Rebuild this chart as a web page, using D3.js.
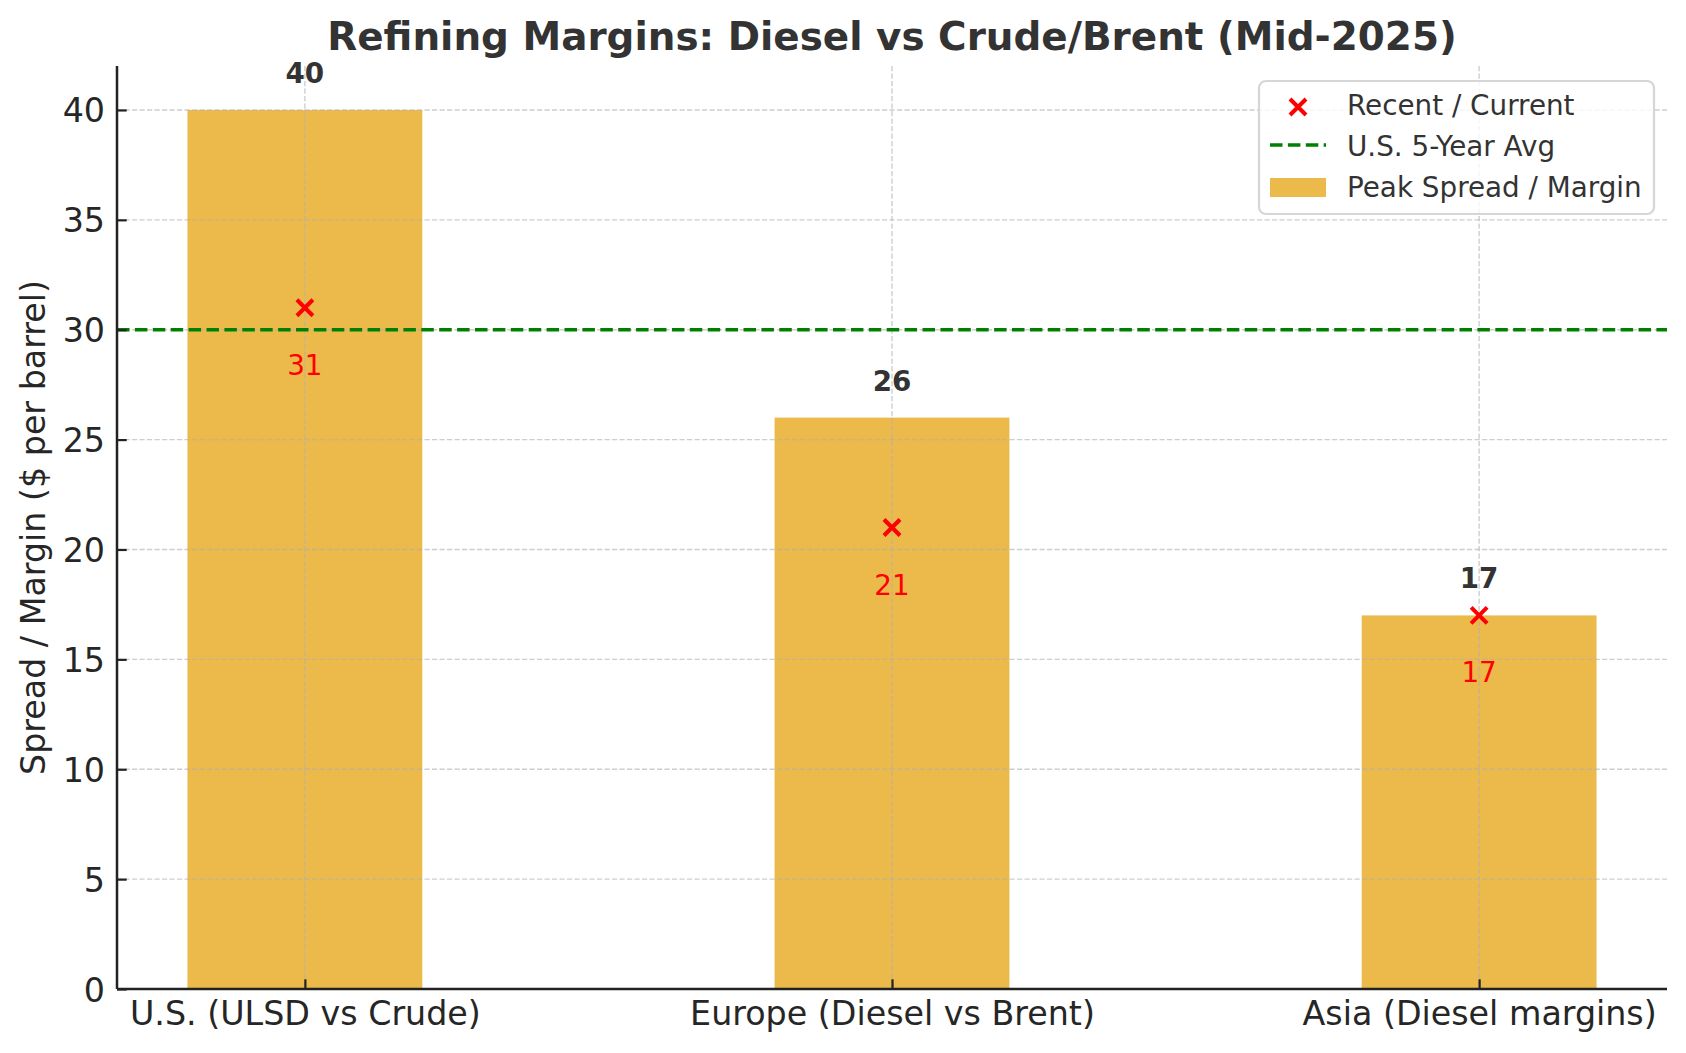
<!DOCTYPE html>
<html>
<head>
<meta charset="utf-8">
<script src="https://cdn.jsdelivr.net/npm/d3@7"></script>
<style>
  html, body { margin: 0; padding: 0; background: #fff; }
  svg { display: block; font-family: "DejaVu Sans", sans-serif; }
</style>
</head>
<body>
<svg id="chart" width="1686" height="1053"></svg>
<script>
const categories = ["U.S. (ULSD vs Crude)", "Europe (Diesel vs Brent)", "Asia (Diesel margins)"];
const peakSpread = [40, 26, 17];
const recentValues = [31, 21, 17];
const usFiveYearAvg = 30;
const yTickValues = [0, 5, 10, 15, 20, 25, 30, 35, 40];
const titleText = "Refining Margins: Diesel vs Crude/Brent (Mid-2025)";
const yLabelText = "Spread / Margin ($ per barrel)";
const legendLabels = ["Recent / Current", "U.S. 5-Year Avg", "Peak Spread / Margin"];

(function () {
const barColor = "#ecb94b";
const svg = d3.select("#chart");
const pL = 117, pR = 1667, pT = 66, pB = 989;

const x = d3.scaleLinear().domain([-0.32, 2.32]).range([pL, pR]);
const y = d3.scaleLinear().domain([0, 42]).range([pB, pT]);
const barW = 0.4;
const idx = categories.map((d, i) => i);

// bars
svg.append("g").selectAll("rect").data(idx).join("rect")
  .attr("x", i => x(i - barW / 2))
  .attr("width", i => x(i + barW / 2) - x(i - barW / 2))
  .attr("y", i => y(peakSpread[i]))
  .attr("height", i => y(0) - y(peakSpread[i]))
  .attr("fill", barColor);

// grid (drawn over bars)
const grid = svg.append("g").attr("stroke", "#b0b0b0").attr("stroke-opacity", 0.62)
  .attr("stroke-width", 1.4).attr("stroke-dasharray", "5.2,2.3");
grid.selectAll("line.h").data(yTickValues).join("line").attr("class", "h")
  .attr("x1", pL).attr("x2", pR).attr("y1", d => y(d)).attr("y2", d => y(d));
grid.selectAll("line.v").data(idx).join("line").attr("class", "v")
  .attr("x1", i => x(i)).attr("x2", i => x(i)).attr("y1", pT).attr("y2", pB);

// 5-year average line
svg.append("line")
  .attr("x1", pL).attr("x2", pR)
  .attr("y1", y(usFiveYearAvg)).attr("y2", y(usFiveYearAvg))
  .attr("stroke", "#008000").attr("stroke-width", 3.4).attr("stroke-dasharray", "12.5,5.4");

// bar labels
svg.append("g").selectAll("text").data(idx).join("text")
  .attr("x", i => x(i)).attr("y", i => y(peakSpread[i]) - 27)
  .attr("text-anchor", "middle").attr("font-size", 27.8).attr("font-weight", "bold")
  .attr("fill", "#333").text(i => peakSpread[i]);

// markers
function xMark(g, cx, cy) {
  const s = 8;
  g.append("path")
    .attr("d", `M${cx - s},${cy - s}L${cx + s},${cy + s}M${cx - s},${cy + s}L${cx + s},${cy - s}`)
    .attr("stroke", "red").attr("stroke-width", 4).attr("fill", "none");
}
const mk = svg.append("g");
idx.forEach(i => xMark(mk, x(i), y(recentValues[i])));

svg.append("g").selectAll("text").data(idx).join("text")
  .attr("x", i => x(i)).attr("y", i => y(recentValues[i]) + 67)
  .attr("text-anchor", "middle").attr("font-size", 27.8)
  .attr("fill", "red").text(i => recentValues[i]);

// axes
const yAxis = svg.append("g").attr("transform", `translate(${pL},0)`)
  .call(d3.axisLeft(y).tickValues(yTickValues).tickSizeInner(-9.7).tickSizeOuter(0).tickPadding(12));
const xAxis = svg.append("g").attr("transform", `translate(0,${pB})`)
  .call(d3.axisBottom(x).tickValues(idx).tickFormat(i => categories[i]).tickSizeInner(-9.7).tickSizeOuter(0).tickPadding(12));
[yAxis, xAxis].forEach(a => {
  a.select(".domain").attr("stroke", "#222").attr("stroke-width", 2.5);
  a.selectAll(".tick line").attr("stroke", "#222").attr("stroke-width", 2.2);
  a.selectAll(".tick text").attr("font-size", 33.3).attr("fill", "#262626")
    .attr("font-family", "DejaVu Sans");
});
yAxis.select(".domain").attr("d", `M0,${pT}V${pB}`);
xAxis.select(".domain").attr("d", `M${pL},0H${pR}`);
xAxis.selectAll(".tick text").attr("dy", null).attr("y", 36);
yAxis.selectAll(".tick text").attr("x", -12).attr("dy", "0.36em");

// title
svg.append("text").attr("x", (pL + pR) / 2).attr("y", 50)
  .attr("text-anchor", "middle").attr("font-size", 38.9).attr("font-weight", "bold")
  .attr("fill", "#333").text(titleText);

// y label
svg.append("text")
  .attr("transform", `translate(45,${(pT + pB) / 2}) rotate(-90)`)
  .attr("text-anchor", "middle").attr("font-size", 33.3).attr("fill", "#262626")
  .text(yLabelText);

// legend
const lg = svg.append("g");
lg.append("rect").attr("x", 1259).attr("y", 81).attr("width", 395).attr("height", 133)
  .attr("rx", 7).attr("fill", "white").attr("fill-opacity", 0.8)
  .attr("stroke", "#d6d6d6").attr("stroke-width", 2.2);
xMark(lg, 1298, 107);
lg.append("line").attr("x1", 1270).attr("x2", 1326).attr("y1", 145).attr("y2", 145)
  .attr("stroke", "#008000").attr("stroke-width", 3.4).attr("stroke-dasharray", "12.5,5.4");
lg.append("rect").attr("x", 1270).attr("y", 178).attr("width", 56).attr("height", 19).attr("fill", barColor);
lg.selectAll("text").data(legendLabels).join("text")
  .attr("x", 1347).attr("y", (d, i) => 115 + i * 41)
  .attr("font-size", 27.8).attr("fill", "#333").text(d => d);
})();
</script>
</body>
</html>
